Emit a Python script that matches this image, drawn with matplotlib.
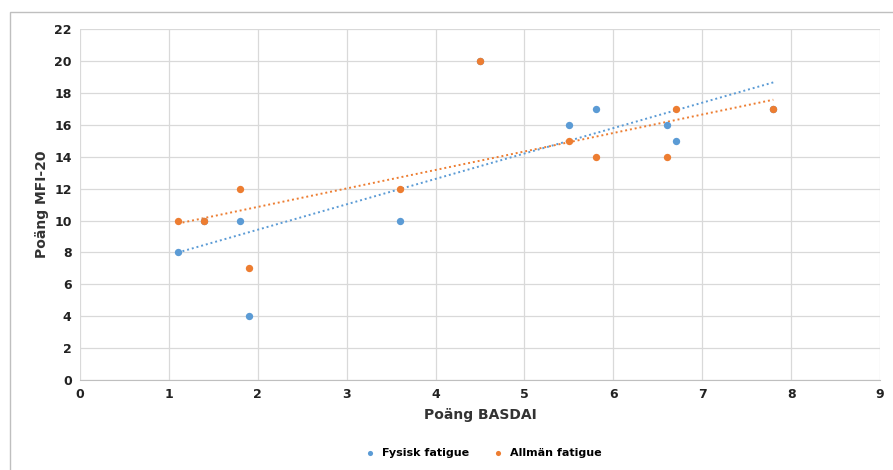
import numpy as np
import matplotlib
matplotlib.use("Agg")
import matplotlib.pyplot as plt
from matplotlib.patches import Rectangle

# BASDAI-poang (samma patienter i bada serierna)
basdai = [1.1, 1.4, 1.8, 1.9, 3.6, 4.5, 5.5, 5.8, 6.6, 6.7, 7.8]
fysisk = [8, 10, 10, 4, 10, 20, 16, 17, 16, 15, 17]
allman = [10, 10, 12, 7, 12, 20, 15, 14, 14, 17, 17]

blue = "#5B9BD5"
orange = "#ED7D31"

fig = plt.figure(figsize=(8.93, 4.70), dpi=100)
ax = fig.add_axes([0.0896, 0.1915, 0.8958, 0.7465])

x = np.array(basdai)
xs = np.array([x.min(), x.max()])
for y, c, lab in [(fysisk, blue, "Fysisk fatigue"), (allman, orange, "Allmän fatigue")]:
    ax.scatter(x, y, s=28, color=c, label=lab, zorder=3, linewidths=0)
    k, m = np.polyfit(x, y, 1)
    ax.plot(xs, k * xs + m, color=c, lw=1.4, ls=(0, (1, 1.5)), zorder=2)

ax.set_xlim(0, 9)
ax.set_ylim(0, 22)
ax.set_xticks(range(0, 10))
ax.set_yticks(range(0, 23, 2))
ax.grid(True, color="#d9d9d9", lw=0.9)
ax.set_axisbelow(True)
for s in ["top", "right", "left"]:
    ax.spines[s].set_visible(False)
ax.spines["bottom"].set_color("#bfbfbf")
ax.tick_params(length=0, labelsize=9, colors="#222222", pad=6)
for t in ax.get_xticklabels() + ax.get_yticklabels():
    t.set_fontweight("bold")

ax.set_xlabel("Poäng BASDAI", fontsize=10, color="#333333", labelpad=5, fontweight="semibold")
ax.set_ylabel("Poäng MFI-20", fontsize=10, color="#333333", labelpad=4, fontweight="semibold")

ax.legend(loc="upper center", bbox_to_anchor=(0.5, -0.165), ncol=2, frameon=False,
          handletextpad=0.1, columnspacing=1.6, markerscale=0.7,
          prop={"weight": "bold", "size": 8})

fig.patches.append(Rectangle((0.011, -0.01), 0.99, 0.985, transform=fig.transFigure,
                             fill=False, edgecolor="#bfbfbf", lw=1))

fig.savefig("out.png", dpi=100)
